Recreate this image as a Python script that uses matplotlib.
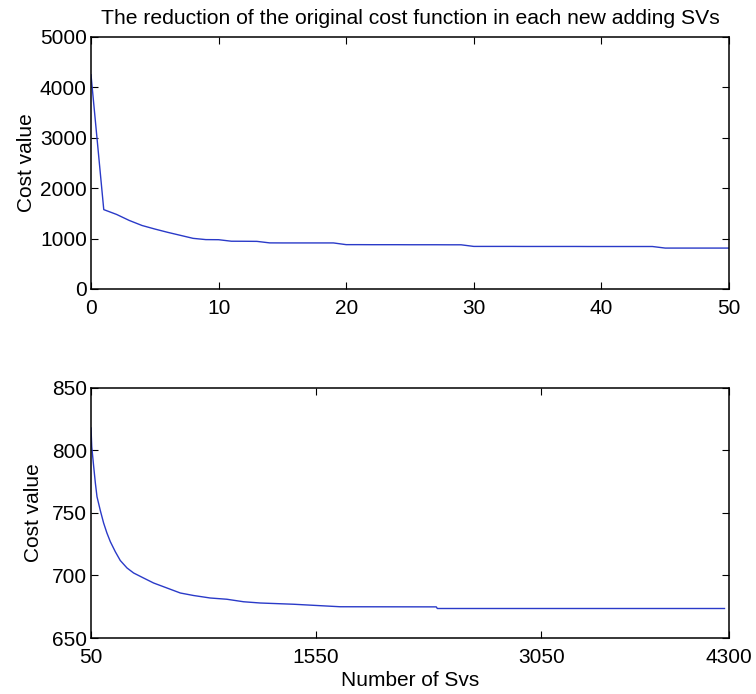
import matplotlib
matplotlib.use("Agg")
import matplotlib.pyplot as plt

plt.rcParams['font.family'] = ['Liberation Sans', 'DejaVu Sans']

# Cost value for the first 50 added support vectors
svs_first = list(range(0, 51))
cost_first = [4250, 1575, 1480, 1360, 1260, 1190, 1125, 1065, 1005, 980,
              978, 948, 947, 945, 915, 914, 914, 914, 914, 914,
              880, 880, 879, 879, 879, 878, 878, 878, 877, 877,
              845, 845, 845, 845, 844, 844, 844, 844, 844, 843,
              843, 843, 843, 843, 843, 812, 812, 812, 812, 812, 812]

# Cost value from 50 up to the full set of support vectors
svs_rest = [50, 55, 68, 79, 90, 112, 134, 156, 179, 212, 245, 290, 334, 400,
            467, 556, 645, 733, 844, 955, 1066, 1177, 1400, 1710, 2350, 2357,
            4270]
cost_rest = [818, 803, 787, 774, 763, 752, 742, 734, 727, 719, 712, 706, 702,
             698, 694, 690, 686, 684, 682, 681, 679, 678, 677, 675, 674.9,
             673.6, 673.6]

top_xticks = [0, 10, 20, 30, 40, 50]
top_yticks = [0, 1000, 2000, 3000, 4000, 5000]
bot_xticks = [50, 1550, 3050, 4300]
bot_yticks = [650, 700, 750, 800, 850]

W, H = 756, 694
fig = plt.figure(figsize=(W / 100, H / 100), dpi=100)

ax1 = fig.add_axes([91 / W, 1 - 289 / H, 638 / W, 252 / H])
ax2 = fig.add_axes([91 / W, 1 - 638 / H, 638 / W, 250 / H])

line_color = '#2a3ac8'
ax1.plot(svs_first, cost_first, color=line_color, lw=1.0)
ax2.plot(svs_rest, cost_rest, color=line_color, lw=1.0)

fs = 15

ax1.set_xlim(0, 50)
ax1.set_ylim(0, 5000)
ax1.set_xticks(top_xticks)
ax1.set_yticks(top_yticks)
ax1.set_title('The reduction of the original cost function in each new adding SVs',
              fontsize=15.2, pad=9)
ax1.set_ylabel('Cost value', fontsize=fs, labelpad=2.5)

ax2.set_xlim(50, 4300)
ax2.set_ylim(650, 850)
ax2.set_xticks(bot_xticks)
ax2.set_yticks(bot_yticks)
ax2.set_ylabel('Cost value', fontsize=fs, labelpad=6.5)
ax2.set_xlabel('Number of Svs', fontsize=fs, labelpad=3)

for ax in (ax1, ax2):
    ax.tick_params(direction='in', length=5, width=0.8, top=True, right=True,
                   labelsize=fs, colors='black')
    ax.tick_params(axis='y', pad=3)
    ax.tick_params(axis='x', pad=7)
    for s in ax.spines.values():
        s.set_linewidth(1.1)
        s.set_color('black')

fig.savefig('out.png', dpi=100, facecolor='white')
